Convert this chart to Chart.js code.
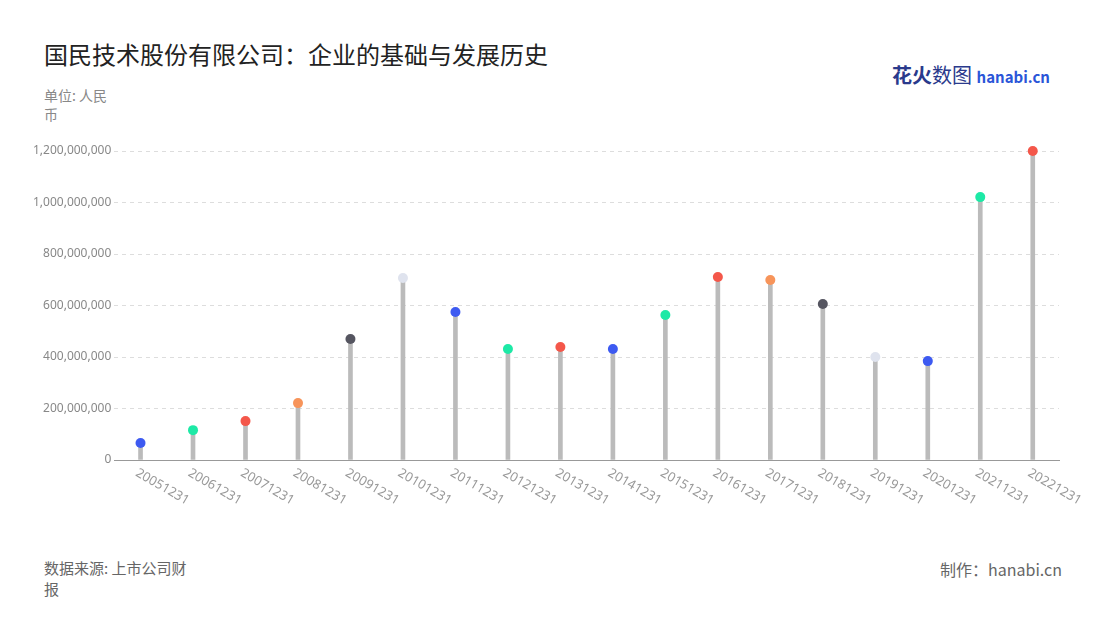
<!DOCTYPE html>
<html><head><meta charset="utf-8">
<script src="https://cdn.jsdelivr.net/npm/chart.js@4"></script>
<style>
body{margin:0;background:#fff;font-family:"Noto Sans CJK SC","Noto Sans",sans-serif;}
#wrap{position:relative;width:1100px;height:620px;}
canvas{position:absolute;left:0;top:0;}
.t{position:absolute;color:#222;}
</style></head><body>
<div id="wrap">
<div class="t" style="left:44px;top:36px;font-size:24px;color:#222;">国民技术股份有限公司：企业的基础与发展历史</div>
<div class="t" style="left:44px;top:86px;font-size:14px;color:#888;width:70px;line-height:19px;">单位: 人民币</div>
<div class="t" style="left:892px;top:60px;font-size:20px;font-weight:bold;color:#2a3a8c;">花火<span style="font-weight:normal">数图</span> <span style="font-size:15px;color:#2a55d8">hanabi.cn</span></div>
<div class="t" style="left:44px;top:557px;font-size:15px;color:#666;width:156px;line-height:21px;">数据来源: 上市公司财报</div>
<div class="t" style="left:940px;top:557px;font-size:16px;color:#666;">制作：hanabi.cn</div>
<canvas id="c" width="1100" height="620"></canvas>
</div>
<script>
const categories=["20051231","20061231","20071231","20081231","20091231","20101231","20111231","20121231","20131231","20141231","20151231","20161231","20171231","20181231","20191231","20201231","20211231","20221231"];
const values=[66e6,116e6,151e6,221e6,470e6,707e6,575e6,431e6,439e6,431e6,563e6,711e6,699e6,606e6,400e6,384e6,1021e6,1200e6];
const pointColors=["#3d5af1","#1de9a6","#f4574a","#f7945a","#555560","#dfe3ee","#3d5af1","#1de9a6","#f4574a","#3d5af1","#1de9a6","#f4574a","#f7945a","#555560","#dfe3ee","#3d5af1","#1de9a6","#f4574a"];
const rotLabels={id:'rotLabels',afterDraw(chart){
  const ctx=chart.ctx, xs=chart.scales.x, y0=chart.chartArea.bottom;
  ctx.save();ctx.font='13px "Noto Sans"';ctx.fillStyle='#999';ctx.textBaseline='middle';ctx.textAlign='left';
  chart.data.labels.forEach((l,i)=>{const x=xs.getPixelForTick(i);ctx.save();ctx.translate(x-4,y0+12);ctx.rotate(Math.PI/6);ctx.fillText(l,0,0);ctx.restore();});
  ctx.restore();}};
new Chart(document.getElementById('c'),{
 data:{labels:categories,datasets:[
  {type:'line',data:values,showLine:false,pointRadius:5,pointHoverRadius:5,pointBackgroundColor:pointColors,pointBorderWidth:0,order:0,clip:false},
  {type:'bar',data:values,backgroundColor:'#bbbbbb',barThickness:4,order:1}
 ]},
 options:{responsive:false,animation:false,
  layout:{padding:{left:30,right:41,top:151,bottom:152}},
  plugins:{legend:{display:false},tooltip:{enabled:false}},
  scales:{
   x:{grid:{display:false},border:{color:'#999'},ticks:{display:false}},
   y:{min:0,max:1200000000,ticks:{stepSize:200000000,color:'#888',font:{size:12,family:'Noto Sans'},callback:v=>v.toLocaleString('en-US')},grid:{color:'#ddd',tickLength:0},border:{display:false,dash:[4,4]}}
  }}
 ,plugins:[rotLabels]});
</script></body></html>
